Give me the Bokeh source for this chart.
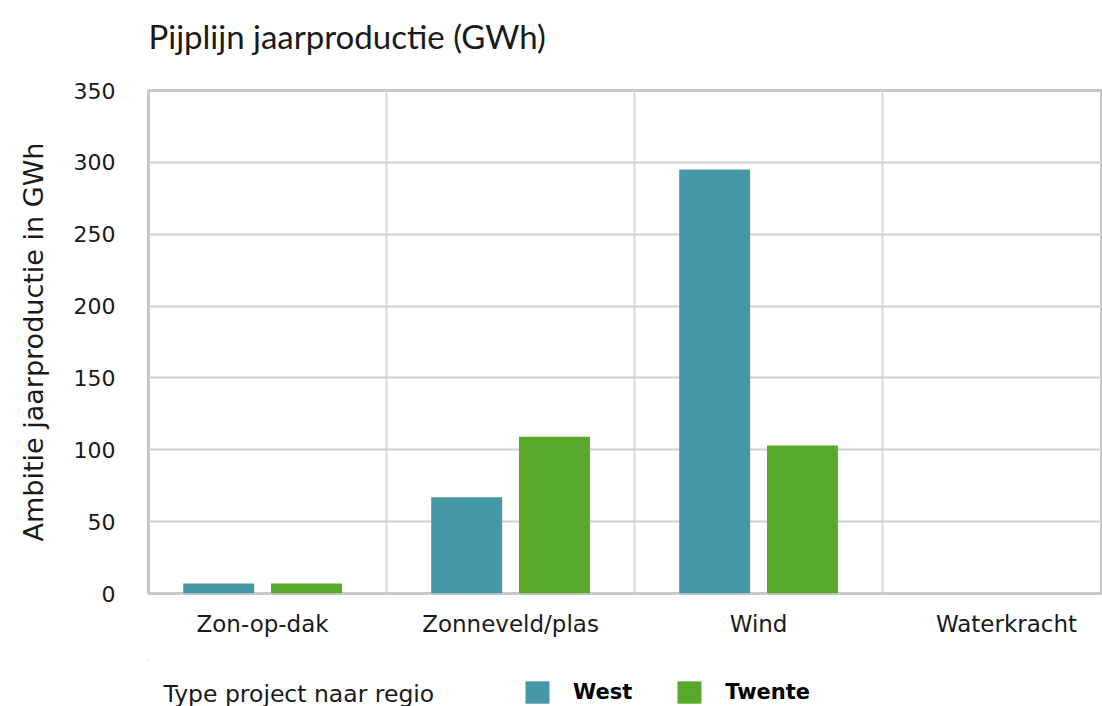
import numpy as np
from bokeh.plotting import figure
from bokeh.layouts import column
from bokeh.models import (ColumnDataSource, FixedTicker, Range1d, Legend, LegendItem, Label)
from bokeh.transform import dodge
from bokeh.embed import file_html
from bokeh.resources import INLINE

# ---- data ----
categories = ["Zon-op-dak", "Zonneveld/plas", "Wind", "Waterkracht"]
west = [7, 67, 295, 0]
twente = [7, 109, 103, 0]
y_ticks = [0, 50, 100, 150, 200, 250, 300, 350]
title_text = "Pijplijn jaarproductie (GWh)"
y_label = "Ambitie jaarproductie in GWh"
legend_title = "Type project naar regio"
series_names = ["West", "Twente"]

TEAL = "#4698a6"
GREEN = "#58a82a"
GRID = "#cfcfcf"
TEXT = "#1a1a1a"
FONT = "DejaVu Sans"

xpos = np.arange(len(categories)) + 0.5
src = ColumnDataSource(dict(x=xpos, west=west, twente=twente, cat=categories))


def blank_strip(h):
    f = figure(width=1102, height=h, output_backend="svg", toolbar_location=None,
               x_range=Range1d(100, 101), y_range=Range1d(-2, -1),
               x_axis_location=None, y_axis_location=None,
               min_border_left=0, min_border_right=0, min_border_top=0, min_border_bottom=0)
    f.outline_line_color = None
    f.grid.visible = False
    return f


# ---- title strip ----
tf = blank_strip(78)
tf.add_layout(Label(x=0, y=43, x_units="screen", y_units="screen", text=title_text,
                    text_font="Lato", text_font_size="33px", text_color=TEXT,
                    text_baseline="middle", text_align="left"))

# ---- main chart ----
p = figure(width=1102, height=582, output_backend="svg", toolbar_location=None,
           x_range=Range1d(0.04, 3.887), y_range=Range1d(0, 350),
           min_border_left=148, min_border_right=0, min_border_top=12, min_border_bottom=67)

p.vbar(x=dodge("x", -0.177, range=p.x_range), top="west", width=0.286, source=src,
       fill_color=TEAL, line_color=None)
p.vbar(x=dodge("x", 0.177, range=p.x_range), top="twente", width=0.286, source=src,
       fill_color=GREEN, line_color=None)

p.outline_line_color = "#c8c8c8"
p.outline_line_width = 3
p.ygrid.ticker = FixedTicker(ticks=y_ticks)
p.ygrid.grid_line_color = GRID
p.ygrid.grid_line_width = 2
p.xgrid.ticker = FixedTicker(ticks=[1, 2, 3])
p.xgrid.grid_line_color = "#d9d9d9"
p.xgrid.grid_line_width = 2

ya = p.yaxis[0]
ya.ticker = FixedTicker(ticks=y_ticks)
ya.axis_line_color = None
ya.major_tick_line_color = None
ya.minor_tick_line_color = None
ya.major_tick_out = 0
ya.major_label_standoff = 33
ya.major_label_text_font = FONT
ya.major_label_text_font_size = "22px"
ya.major_label_text_color = TEXT
ya.axis_label = y_label
ya.axis_label_text_font = FONT
ya.axis_label_text_font_size = "27px"
ya.axis_label_text_font_style = "normal"
ya.axis_label_text_color = TEXT
ya.axis_label_standoff = 22

xa = p.xaxis[0]
xa.ticker = FixedTicker(ticks=list(xpos))
xa.major_label_overrides = {float(x): c for x, c in zip(xpos, categories)}
xa.axis_line_color = None
xa.major_tick_line_color = None
xa.minor_tick_line_color = None
xa.major_tick_out = 0
xa.major_label_standoff = 17
xa.major_label_text_font = FONT
xa.major_label_text_font_size = "23px"
xa.major_label_text_color = TEXT

# ---- legend strip (its bars fall outside its view; only the swatches show) ----
lg = blank_strip(46)
lw = lg.vbar(x="x", top="west", width=0.1, source=src, fill_color=TEAL, line_color=None)
lt = lg.vbar(x="x", top="twente", width=0.1, source=src, fill_color=GREEN, line_color=None)

lg.add_layout(Label(x=15, y=13, x_units="screen", y_units="screen", text=legend_title,
                    text_font=FONT, text_font_size="23.5px", text_color=TEXT,
                    text_baseline="middle", text_align="left"))

legend = Legend(items=[LegendItem(label=series_names[0], renderers=[lw], index=0),
                       LegendItem(label=series_names[1], renderers=[lt], index=0)],
                location=(374, 0), orientation="horizontal",
                glyph_width=30, glyph_height=28, label_standoff=21, spacing=42,
                padding=0, margin=0, border_line_color=None, background_fill_alpha=0,
                label_text_font=FONT, label_text_font_size="21px",
                label_text_font_style="bold", label_text_color="#000000")
lg.add_layout(legend, "center")

open("out.html", "w").write(file_html(column(tf, p, lg), INLINE))
